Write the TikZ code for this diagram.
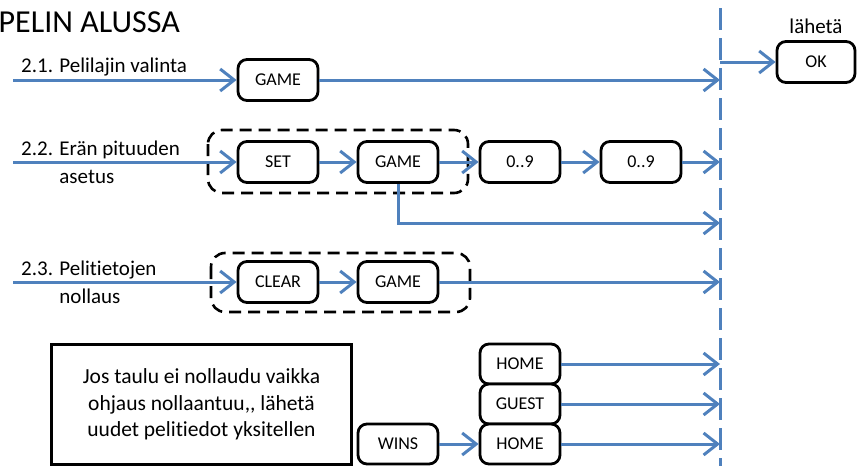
\documentclass[tikz,border=0pt]{standalone}
\usepackage{fontspec}
\setmainfont{Carlito}[Ligatures={TeXOff,CommonOff}]
\usetikzlibrary{arrows.meta}
\definecolor{flowblue}{RGB}{79,129,189}
\begin{document}
\begin{tikzpicture}[x=1pt,y=-1pt,
 key/.style={draw=black, line width=2.8pt, rounded corners=9pt, minimum width=80pt, minimum height=41pt, inner sep=0pt, font=\fontsize{18}{20}\selectfont, fill=white},
 flow/.style={draw=flowblue, line width=3pt, -{Straight Barb[length=14pt,width=22pt]}},
 plain/.style={draw=flowblue, line width=3pt},
 grp/.style={draw=black, line width=2.6pt, dash pattern=on 12pt off 7pt, rounded corners=14pt},
 lbl/.style={anchor=base west, inner sep=0pt, font=\fontsize{21}{25}\selectfont},
]
\useasboundingbox (0,0) rectangle (859,466);

% title
\node[anchor=base west, inner sep=0pt, font=\fontsize{32}{36}\selectfont] (title) at (-1.5,32) {PELIN ALUSSA};

% labels
\node[lbl] (l1) at (21,72) {2.1. Pelilajin valinta};
\node[lbl] (l2a) at (21,155) {2.2. Erän pituuden};
\node[lbl] (l2b) at (21,183) {\phantom{2.2. }asetus};
\node[lbl] (l3a) at (21,275) {2.3. Pelitietojen};
\node[lbl] (l3b) at (21,303) {\phantom{2.3. }nollaus};
\node[anchor=base, inner sep=0pt, font=\fontsize{21}{25}\selectfont] (lah) at (816,33) {lähetä};

% vertical dashed line
\coordinate (vtop) at (720,8);
\coordinate (vbot) at (720,466);
\draw[plain, dash pattern=on 22pt off 8pt] (vtop) -- (vbot);

% group boxes
\draw[grp] (208,130) rectangle (468,193);
\draw[grp] (211,253) rectangle (470,312);

% nodes
\node[key] (game1) at (278,80) {GAME};
\node[key, minimum width=78pt] (ok) at (816,62) {OK};
\node[key] (set) at (278,162) {SET};
\node[key] (game2) at (398,162) {GAME};
\node[key] (n1) at (520,162) {0..9};
\node[key] (n2) at (641,162) {0..9};
\node[key] (clear) at (278,282) {CLEAR};
\node[key] (game3) at (398,282) {GAME};
\node[key, minimum height=40pt] (home1) at (520,364) {HOME};
\node[key, minimum height=40pt] (guest) at (520,404) {GUEST};
\node[key, minimum height=40pt] (home2) at (520,444) {HOME};
\node[key, minimum height=40pt] (wins) at (398,444) {WINS};

\node[draw=black, line width=2.6pt, minimum width=300pt, minimum height=120pt, align=center, inner sep=0pt,
  font=\fontsize{21.5}{26.5}\selectfont] (note) at (201.5,404.5)
  {Jos taulu ei nollaudu vaikka\\ohjaus nollaantuu,{},{} lähetä\\uudet pelitiedot yksitellen};

% start points
\coordinate (s1) at (13,80);
\coordinate (s2) at (13,162);
\coordinate (s3) at (13,282);
\coordinate (b2) at (720,223);

% connectors
\draw[flow] (s1) -- (game1);
\draw[flow] (game1) -- (game1 -| vtop);
\draw[flow] (ok -| vtop) -- (ok);
\draw[flow] (s2) -- (set);
\draw[flow] (set) -- (game2);
\draw[flow] (game2) -- (n1);
\draw[flow] (n1) -- (n2);
\draw[flow] (n2) -- (n2 -| vtop);
\draw[flow] (game2.south) |- (b2);
\draw[flow] (s3) -- (clear);
\draw[flow] (clear) -- (game3);
\draw[flow] (game3) -- (game3 -| vtop);
\draw[flow] (home1) -- (home1 -| vtop);
\draw[flow] (guest) -- (guest -| vtop);
\draw[flow] (home2) -- (home2 -| vtop);
\draw[flow] (wins) -- (home2);
\end{tikzpicture}
\end{document}
